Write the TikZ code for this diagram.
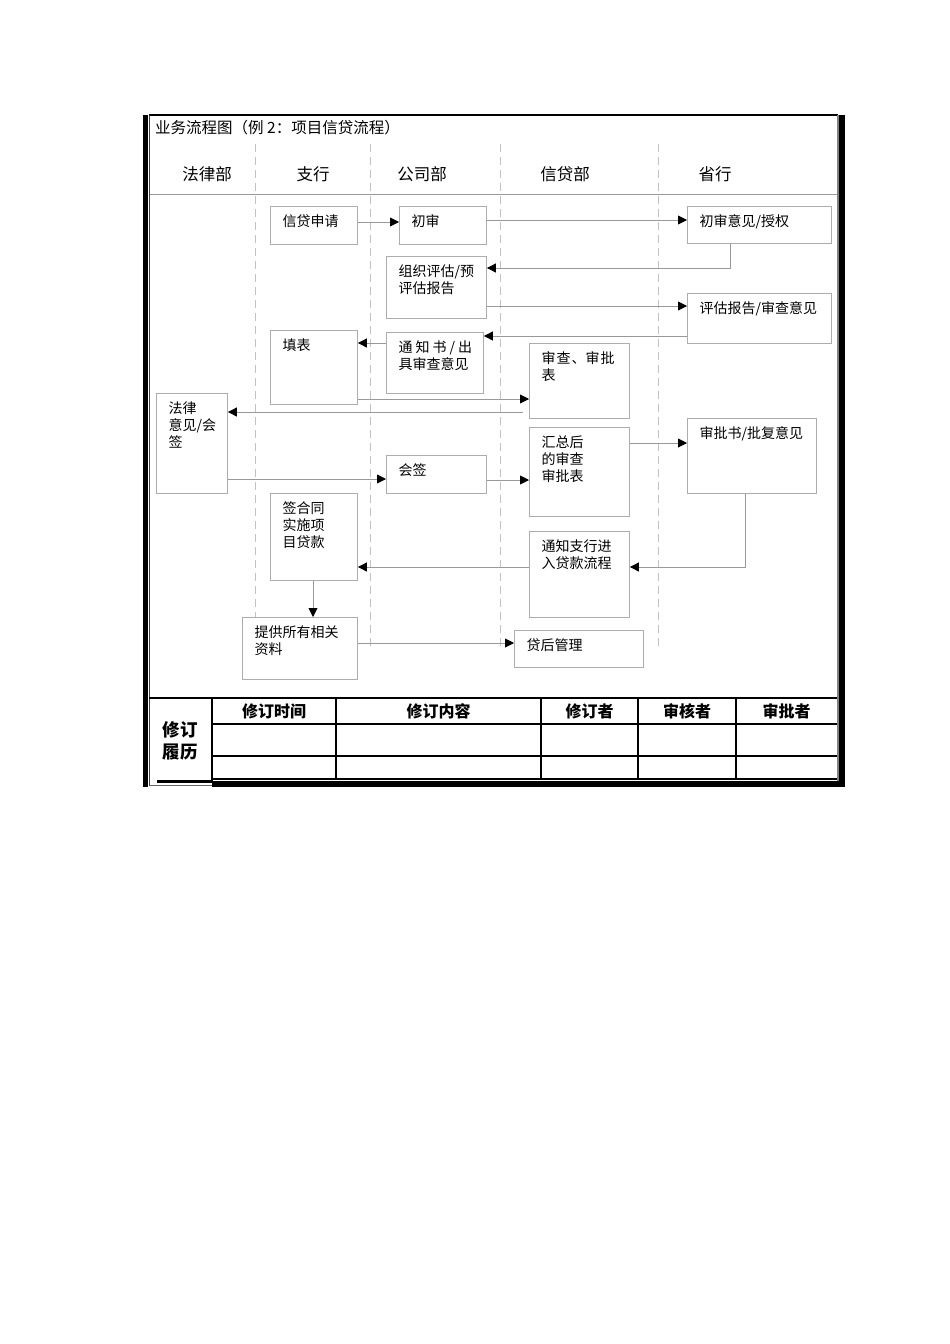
\documentclass[tikz,border=0pt]{standalone}
\usepackage{fontspec}
\setmainfont{Noto Sans CJK SC}
\usetikzlibrary{arrows.meta}
\definecolor{boxgray}{gray}{0.68}
\definecolor{linegray}{gray}{0.6}
\definecolor{dashgray}{gray}{0.76}
\begin{document}
\begin{tikzpicture}[x=1pt,y=-1pt,
  pbox/.style={draw=boxgray,line width=0.9pt,fill=white,anchor=north west,inner sep=0pt},
  lbl/.style={anchor=north west,inner sep=0pt,xshift=12.5pt,yshift=-8.5pt,align=left,font=\fontsize{14}{17}\selectfont},
  flow/.style={linegray,line width=0.9pt,-{Triangle[length=9pt,width=9pt,color=black]}},
  lane/.style={inner sep=0pt,font=\fontsize{16.5}{20}\selectfont},
  thead/.style={inner sep=0pt,font=\fontsize{16}{19}\selectfont\bfseries},
  tline/.style={black,line width=1.3pt}]
\useasboundingbox (0,0) rectangle (950,1344);
%frame
\draw[black,line width=1.2pt](149,115)--(838,115);
\fill[black](143,115)rectangle(147.5,787);
\draw[black!75,line width=1pt](149.5,115)--(149.5,786);
\draw[black!50,line width=1.6pt](837.8,115)--(837.8,786);
\fill[black](839,115)rectangle(845,787);
\node[anchor=west,inner sep=0pt,font=\fontsize{15.5}{18}\selectfont] (title) at (155,128) {业务流程图（例 2：项目信贷流程）};
%lanes
\foreach \x in {255,370,500,658}{\draw[dashgray,dash pattern=on 8pt off 5pt,line width=0.9pt](\x,144)--(\x,648);}
\foreach \x/\t [count=\i] in {207/法律部,313/支行,422/公司部,565/信贷部,715/省行}{\node[lane] (lane\i) at (\x,174) {\t};}
\draw[linegray,line width=0.9pt](150,194)--(837,194);
%boxes
\node[pbox,minimum width=87pt,minimum height=38pt,label={[lbl]north west:信贷申请}] (sq) at (270,206) {};
\node[pbox,minimum width=87pt,minimum height=38pt,label={[lbl]north west:初审}] (cs) at (399,206) {};
\node[pbox,minimum width=144pt,minimum height=37pt,label={[lbl]north west:初审意见/授权}] (csyj) at (687,206) {};
\node[pbox,minimum width=100pt,minimum height=62pt,label={[lbl]north west:组织评估/预\\评估报告}] (zzpg) at (386,256) {};
\node[pbox,minimum width=144pt,minimum height=50pt,label={[lbl]north west:评估报告/审查意见}] (pgbg) at (687,293) {};
\node[pbox,minimum width=87pt,minimum height=74pt,label={[lbl]north west:填表}] (tb) at (270,330) {};
\node[pbox,minimum width=97pt,minimum height=61pt,label={[lbl]north west:通\hspace{3pt}知\hspace{3pt}书\hspace{3pt}/\hspace{3pt}出\\具审查意见}] (tzs) at (386,332) {};
\node[pbox,minimum width=100pt,minimum height=75pt,label={[lbl]north west:审\hspace{1pt}查\hspace{1pt}、审\hspace{1pt}批\\表}] (scb) at (529,343) {};
\node[pbox,minimum width=71pt,minimum height=100pt,label={[lbl]north west:法律\\意见/会\\签}] (flyj) at (156,393) {};
\node[pbox,minimum width=100pt,minimum height=38pt,label={[lbl]north west:会签}] (hq) at (386,455) {};
\node[pbox,minimum width=100pt,minimum height=89pt,label={[lbl]north west:汇总后\\的审查\\审批表}] (hzh) at (529,427) {};
\node[pbox,minimum width=129pt,minimum height=75pt,label={[lbl]north west:审批书/批复意见}] (spyj) at (687,418) {};
\node[pbox,minimum width=87pt,minimum height=87pt,label={[lbl]north west:签合同\\实施项\\目贷款}] (htdk) at (270,493) {};
\node[pbox,minimum width=100pt,minimum height=86pt,label={[lbl]north west:通知支行进\\入贷款流程}] (tzzh) at (529,531) {};
\node[pbox,minimum width=115pt,minimum height=62pt,label={[lbl]north west:提供所有相关\\资料}] (tgzl) at (242,617) {};
\node[pbox,minimum width=129pt,minimum height=37pt,label={[lbl]north west:贷后管理}] (dhgl) at (514,630) {};
%arrows
\draw[flow](sq.east|-0,222)--(cs.west|-0,222);
\draw[flow](cs.east|-0,220)--(csyj.west|-0,220);
\draw[flow](csyj.south-|730,0)|-(zzpg.east|-0,268);
\draw[flow](zzpg.east|-0,306)--(pgbg.west|-0,306);
\draw[flow](pgbg.west|-0,336)--(tzs.east|-0,336);
\draw[flow](tzs.west|-0,343)--(tb.east|-0,343);
\draw[flow](tb.east|-0,399)--(scb.west|-0,399);
\draw[flow,shorten <=6pt](scb.west|-0,412)--(flyj.east|-0,412);
\draw[flow](flyj.east|-0,479)--(hq.west|-0,479);
\draw[flow](hq.east|-0,480)--(hzh.west|-0,480);
\draw[flow](hzh.east|-0,443)--(spyj.west|-0,443);
\draw[flow](spyj.south-|745,0)|-(tzzh.east|-0,567);
\draw[flow](tzzh.west|-0,567)--(htdk.east|-0,567);
\draw[flow](htdk.south-|313,0)--(tgzl.north-|313,0);
\draw[flow](tgzl.east|-0,643)--(dhgl.west|-0,643);
%table
\draw[tline](149,698)--(837,698);
\draw[tline](212,698)--(212,783);
\foreach \y in {724,756,779}{\draw[tline](212,\y)--(837,\y);}
\foreach \x in {336,541,638,736}{\draw[tline](\x,698)--(\x,780);}
\foreach \x/\t [count=\i] in {274/修订时间,438.5/修订内容,589.5/修订者,687/审核者,786.5/审批者}{\node[thead] (th\i) at (\x,711) {\t};}
\node[thead,font=\fontsize{17.5}{22}\selectfont\bfseries,align=center] (xdll) at (180,741) {修订\\履历};
\fill[black](212,780.5)rectangle(845,786.5);
\fill[black](157,779.5)rectangle(212,783);
\draw[black!60,line width=0.8pt](150,785.5)--(212,785.5);
\end{tikzpicture}
\end{document}
